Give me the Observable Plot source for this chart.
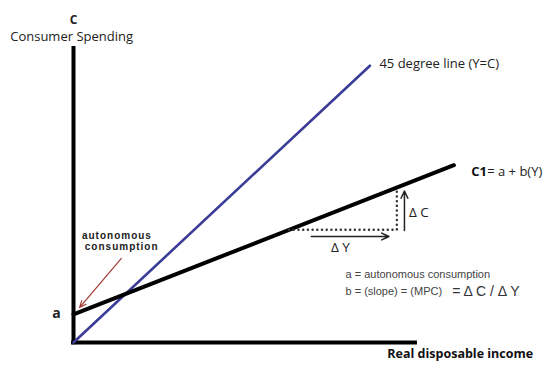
<!DOCTYPE html>
<html>
<head>
<meta charset="utf-8">
<script src="https://cdn.jsdelivr.net/npm/d3@7"></script>
<script src="https://cdn.jsdelivr.net/npm/@observablehq/plot@0.6"></script>
<style>
  html, body { margin: 0; padding: 0; background: #fff; }
  #chart svg { display: block; }
</style>
</head>
<body>
<div id="chart"></div>
<script>
// 45 degree line (Y = C)
const lineIncome = [0, 93.5];
const lineSpending = [0, 93.5];
// consumption function C1 = a + b(Y)
const autonomous = 9.5;
const c1Income = [0, 120];
const c1Spending = [9.5, 59.9];
// slope triangle (dotted) and delta arrows
const triIncome = [68, 102, 102];
const triSpending = [38.1, 38.1, 52.4];
const deltaYArrow = {x1: 75, x2: 99.5, y: 35.8};
const deltaCArrow = {x: 104.4, y1: 37.8, y2: 51.2};
// autonomous consumption pointer
const redArrow = {x1: 15.1, y1: 28.4, x2: 1.9, y2: 11.8};
// axis extents
const xAxisEnd = 108.5;
const yAxisEnd = 100;

const lineData = lineIncome.map((v, i) => ({Y: v, C: lineSpending[i]}));
const c1Data = c1Income.map((v, i) => ({Y: v, C: c1Spending[i]}));
const triData = triIncome.map((v, i) => ({Y: v, C: triSpending[i]}));

const font = "'Open Sans', sans-serif";
const arial = "'Liberation Sans', Arial, sans-serif";

const plot = Plot.plot({
  width: 560,
  height: 368,
  marginLeft: 73,
  marginRight: 170,
  marginTop: 46,
  marginBottom: 26,
  x: {domain: [0, 100], axis: null},
  y: {domain: [0, 100], axis: null},
  marks: [
    // axes
    Plot.ruleX([0], {y1: -0.8, y2: yAxisEnd, stroke: "#000", strokeWidth: 4}),
    Plot.ruleY([0], {x1: -0.6, x2: xAxisEnd, stroke: "#000", strokeWidth: 4}),
    // 45 degree line
    Plot.line(lineData, {x: "Y", y: "C", stroke: "#3b3b98", strokeWidth: 2.6}),
    // C1
    Plot.line(c1Data, {x: "Y", y: "C", stroke: "#000", strokeWidth: 4}),
    // dotted triangle
    Plot.line(triData, {x: "Y", y: "C", stroke: "#333", strokeWidth: 2.4, strokeLinecap: "round", strokeLinejoin: "round", strokeDasharray: "0.1,4.6"}),
    // delta arrows
    Plot.arrow([deltaYArrow], {x1: "x1", x2: "x2", y1: "y", y2: "y", stroke: "#222", strokeWidth: 1.5, headLength: 8, headAngle: 50}),
    Plot.arrow([deltaCArrow], {x1: "x", x2: "x", y1: "y1", y2: "y2", stroke: "#222", strokeWidth: 1.5, headLength: 8, headAngle: 50}),
    // red pointer
    Plot.arrow([redArrow], {x1: "x1", y1: "y1", x2: "x2", y2: "y2", stroke: "#a33a35", strokeWidth: 1.2, headLength: 9, headAngle: 45}),
    // labels
    Plot.text(["C"], {x: [0], y: [109], text: d => d, fontFamily: font, fontWeight: "bold", fontSize: 12, fill: "#222"}),
    Plot.text(["Consumer Spending"], {x: [-0.6], y: [103.3], text: d => d, fontFamily: font, fontSize: 13, fill: "#222"}),
    Plot.text(["45 degree line (Y=C)"], {x: [96.5], y: [94], text: d => d, textAnchor: "start", fontFamily: font, fontSize: 13, fill: "#222"}),
    Plot.text(["C1"], {x: [125.5], y: [57.8], text: d => d, textAnchor: "start", fontFamily: font, fontWeight: "bold", fontSize: 13, fill: "#111"}),
    Plot.text(["= a + b(Y)"], {x: [130.5], y: [57.8], text: d => d, textAnchor: "start", fontFamily: font, fontSize: 13, fill: "#222"}),
    Plot.text(["Δ C"], {x: [105.8], y: [43.9], text: d => d, textAnchor: "start", fontFamily: font, fontSize: 13.5, fill: "#222"}),
    Plot.text(["Δ Y"], {x: [84.2], y: [32.2], text: d => d, fontFamily: font, fontSize: 13.5, fill: "#222"}),
    Plot.text(["autonomous"], {x: [13.7], y: [36.1], text: d => d, fontFamily: arial, fontWeight: "bold", fontSize: 10, fill: "#222"}),
    Plot.text(["consumption"], {x: [15.2], y: [32.4], text: d => d, fontFamily: arial, fontWeight: "bold", fontSize: 10, fill: "#222"}),
    Plot.text(["a"], {x: [-5.4], y: [9.8], text: d => d, fontFamily: font, fontWeight: "bold", fontSize: 14, fill: "#222"}),
    Plot.text(["a = autonomous consumption"], {x: [85.8], y: [23], text: d => d, textAnchor: "start", fontFamily: arial, fontSize: 11, fill: "#444"}),
    Plot.text(["b = (slope) = (MPC)"], {x: [85.8], y: [17.2], text: d => d, textAnchor: "start", fontFamily: arial, fontSize: 11, fill: "#444"}),
    Plot.text(["= Δ C / Δ Y"], {x: [119.5], y: [17.2], text: d => d, textAnchor: "start", fontFamily: arial, fontSize: 14, fill: "#333"}),
    Plot.text(["Real disposable income"], {x: [122], y: [-3.8], text: d => d, fontFamily: font, fontWeight: "bold", fontSize: 12.5, fill: "#111"})
  ]
});

d3.select(plot).selectAll("text")
  .filter(function() { const t = this.textContent; return t === "autonomous" || t === "consumption"; })
  .attr("letter-spacing", "1px");

document.getElementById("chart").appendChild(plot);
</script>
</body>
</html>
